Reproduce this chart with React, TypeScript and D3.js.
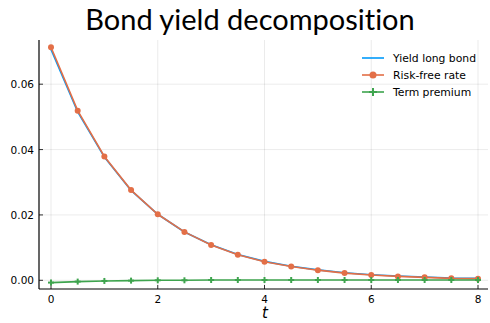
import React from "react";
import * as d3 from "d3";

const tValues = [0, 0.5, 1, 1.5, 2, 2.5, 3, 3.5, 4, 4.5, 5, 5.5, 6, 6.5, 7, 7.5, 8];
const riskFree = [0.0713, 0.0519, 0.0379, 0.0276, 0.0202, 0.0148, 0.0108, 0.0078, 0.0057, 0.0042, 0.0031, 0.0022, 0.0016, 0.0012, 0.0009, 0.0006, 0.0005];
const termPremium = [-0.0007, -0.0004, -0.0002, -0.0001, 0.0, 0.0, 0.0001, 0.0001, 0.0001, 0.0001, 0.0001, 0.0001, 0.0001, 0.0001, 0.0001, 0.0001, 0.0001];
const yieldLong = riskFree.map((r, i) => r + termPremium[i]);
const xTicks = [0, 2, 4, 6, 8];
const yTicks = [0, 0.02, 0.04, 0.06];
const seriesNames = ["Yield long bond", "Risk-free rate", "Term premium"];

const W = 490, H = 323;
const left = 39, right = 488, top = 40, bottom = 289;

export default function App() {
  const x = d3.scaleLinear().domain([0, 8]).range([51, 478]);
  const y = d3.scaleLinear().domain([0, 0.06]).range([280.3, 84.2]);
  const line = (vals: number[]) =>
    d3.line<number>().x((_, i) => x(tValues[i])).y((v) => y(v))(vals) || "";
  const blue = "#009AFA", orange = "#E36F47", green = "#3EA44E";
  const font = "DejaVu Sans, sans-serif";
  return (
    <svg width={W} height={H} style={{ position: "absolute", left: 0, top: 0 }}>
      <rect width={W} height={H} fill="#fff" />
      <text x={250} y={30} textAnchor="middle" fontFamily="Lato, sans-serif" fontSize={29} fill="#000"
        style={{ fontVariantLigatures: "none", fontFeatureSettings: '"liga" 0, "dlig" 0' }}>
        Bond yield decomposition
      </text>
      {xTicks.map((t) => (
        <line key={"gx" + t} x1={x(t)} x2={x(t)} y1={top} y2={bottom} stroke="#000" strokeOpacity={0.1} strokeWidth={0.8} />
      ))}
      {yTicks.map((t) => (
        <line key={"gy" + t} x1={left} x2={right} y1={y(t)} y2={y(t)} stroke="#000" strokeOpacity={0.1} strokeWidth={0.8} />
      ))}
      <line x1={left} x2={left} y1={top} y2={bottom} stroke="#000" strokeWidth={1.2} />
      <line x1={left} x2={right} y1={bottom} y2={bottom} stroke="#000" strokeWidth={1.2} />
      {xTicks.map((t) => (
        <g key={"xt" + t}>
          <line x1={x(t)} x2={x(t)} y1={bottom} y2={bottom - 4} stroke="#000" strokeWidth={0.8} />
          <text x={x(t)} y={bottom + 14} textAnchor="middle" fontFamily={font} fontSize={10.5} fill="#000">
            {t}
          </text>
        </g>
      ))}
      {yTicks.map((t) => (
        <g key={"yt" + t}>
          <line x1={left} x2={left + 4} y1={y(t)} y2={y(t)} stroke="#000" strokeWidth={0.8} />
          <text x={left - 5} y={y(t) + 4} textAnchor="end" fontFamily={font} fontSize={10.5} fill="#000">
            {d3.format(".2f")(t)}
          </text>
        </g>
      ))}
      <text x={265} y={318} textAnchor="middle" fontFamily={font} fontStyle="italic" fontSize={15} fill="#000">
        t
      </text>
      <path d={line(yieldLong)} fill="none" stroke={blue} strokeWidth={1.6} />
      <path d={line(riskFree)} fill="none" stroke={orange} strokeWidth={1.6} />
      {riskFree.map((v, i) => (
        <circle key={"rf" + i} cx={x(tValues[i])} cy={y(v)} r={3} fill={orange} />
      ))}
      <path d={line(termPremium)} fill="none" stroke={green} strokeWidth={1.6} />
      {termPremium.map((v, i) => (
        <g key={"tp" + i} stroke={green} strokeWidth={2}>
          <line x1={x(tValues[i]) - 3} x2={x(tValues[i]) + 3} y1={y(v)} y2={y(v)} />
          <line x1={x(tValues[i])} x2={x(tValues[i])} y1={y(v) - 3} y2={y(v) + 3} />
        </g>
      ))}
      {seriesNames.map((name, i) => {
        const ly = 58 + i * 17;
        const c = [blue, orange, green][i];
        return (
          <g key={name}>
            <line x1={362} x2={384} y1={ly} y2={ly} stroke={c} strokeWidth={1.6} />
            {i === 1 && <circle cx={373} cy={ly} r={3.5} fill={c} />}
            {i === 2 && (
              <g stroke={c} strokeWidth={2}>
                <line x1={369} x2={377} y1={ly} y2={ly} />
                <line x1={373} x2={373} y1={ly - 4} y2={ly + 4} />
              </g>
            )}
            <text x={393} y={ly + 3.8} fontFamily={font} fontSize={10.8} fill="#000">
              {name}
            </text>
          </g>
        );
      })}
    </svg>
  );
}
